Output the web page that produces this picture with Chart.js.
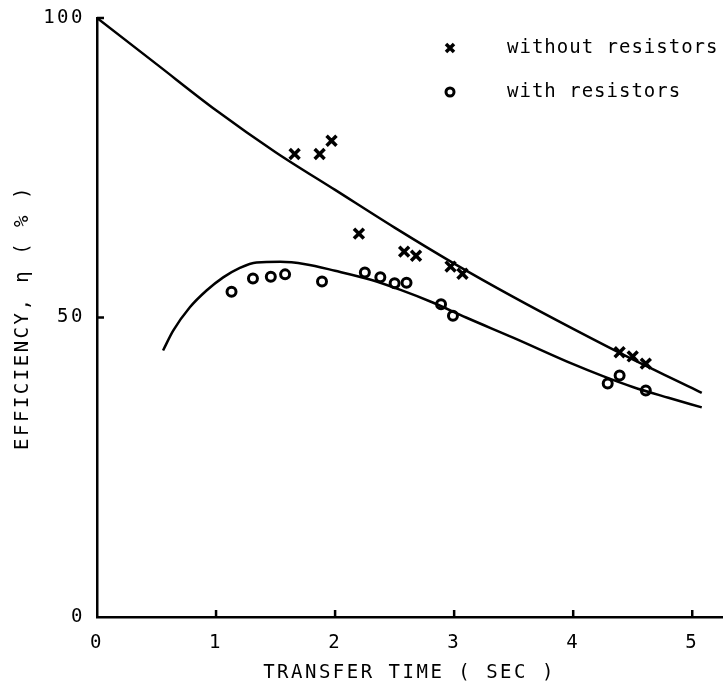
<!DOCTYPE html>
<html>
<head>
<meta charset="utf-8">
<script src="https://cdn.jsdelivr.net/npm/chart.js@4.4.1/dist/chart.umd.min.js"></script>
<style>
body{margin:0;background:#fff;overflow:hidden;}
canvas{display:block;}
</style>
</head>
<body>
<canvas id="chart" width="725" height="695"></canvas>
<script>
// curve without resistors
var upperX=[0,0.5,1,1.5,2,2.5,3,3.5,4,4.5,5,5.08];
var upperY=[100,92.3,84.6,77.6,71.3,65,59,53.4,48.1,43,38.2,37.4];
// curve with resistors
var lowerX=[0.555,0.64,0.78,0.92,1.06,1.2,1.34,1.54,1.75,2.0,2.3,2.55,2.82,3.1,3.5,4.0,4.25,4.5,4.8,5.08];
var lowerY=[44.5,47.8,51.7,54.5,56.7,58.3,59.2,59.3,58.9,57.8,56.3,54.6,52.5,50,46.6,42.2,40.2,38.4,36.6,35];
// measured points
var crossX=[1.66,1.87,1.97,2.2,2.58,2.68,2.97,3.07,4.39,4.5,4.61];
var crossY=[77.3,77.3,79.5,64,61,60.3,58.5,57.3,44.2,43.5,42.3];
var circleX=[1.13,1.31,1.46,1.58,1.89,2.25,2.38,2.5,2.6,2.89,2.99,4.29,4.39,4.61];
var circleY=[54.3,56.5,56.8,57.2,56,57.5,56.7,55.7,55.8,52.2,50.3,39,40.3,37.8];
// ticks and labels
var xTicks=[0,1,2,3,4,5];
var yTicks=[0,50,100];
var legendLabels=['without resistors','with resistors'];

function pts(xs,ys){
  return xs.map(function(x,i){return {x:x,y:ys[i]};});
}

var FONT='"DejaVu Sans Mono", monospace';

//espaciado de letras tipo maquina de escribir
var spacingPlugin={
  id:'spacing',
  beforeDraw:function(chart){ chart.ctx.letterSpacing='2.5px'; }
};

//marcas hacia adentro + leyenda
var extrasPlugin={
  id:'extras',
  afterDraw:function(chart){
    var ctx=chart.ctx, a=chart.chartArea;
    var xs=chart.scales.x, ys=chart.scales.y;
    ctx.save();
    ctx.strokeStyle='#000';
    ctx.lineWidth=2.5;
    xTicks.forEach(function(v){
      if(v===0) return;
      var px=xs.getPixelForValue(v);
      ctx.beginPath();ctx.moveTo(px,a.bottom);ctx.lineTo(px,a.bottom-7);ctx.stroke();
    });
    yTicks.forEach(function(v){
      if(v===0) return;
      var py=ys.getPixelForValue(v);
      ctx.beginPath();ctx.moveTo(a.left,py);ctx.lineTo(a.left+7,py);ctx.stroke();
    });
    //leyenda
    ctx.letterSpacing='1px';
    ctx.font='19px '+FONT;
    ctx.fillStyle='#000';
    ctx.textBaseline='middle';
    ctx.textAlign='left';
    var lx=450, rows=[48,92];
    //cruz
    ctx.lineWidth=3.5;
    ctx.beginPath();
    ctx.moveTo(lx-4,rows[0]-4);ctx.lineTo(lx+4,rows[0]+4);
    ctx.moveTo(lx+4,rows[0]-4);ctx.lineTo(lx-4,rows[0]+4);
    ctx.stroke();
    ctx.fillText(legendLabels[0],507,rows[0]);
    //circulo
    ctx.lineWidth=3;
    ctx.beginPath();ctx.arc(lx,rows[1],4,0,Math.PI*2);ctx.stroke();
    ctx.fillText(legendLabels[1],507,rows[1]);
    ctx.restore();
  }
};

var config={
  type:'scatter',
  data:{
    datasets:[
      {data:pts(upperX,upperY),showLine:true,borderColor:'#000',borderWidth:2.5,pointRadius:0,cubicInterpolationMode:'monotone',fill:false},
      {data:pts(lowerX,lowerY),showLine:true,borderColor:'#000',borderWidth:2.5,pointRadius:0,cubicInterpolationMode:'monotone',fill:false},
      {data:pts(crossX,crossY),showLine:false,pointStyle:'crossRot',pointRadius:7,borderColor:'#000',borderWidth:3.5},
      {data:pts(circleX,circleY),showLine:false,pointStyle:'circle',pointRadius:4.5,borderColor:'#000',backgroundColor:'#fff',borderWidth:3}
    ]
  },
  options:{
    responsive:false,
    animation:false,
    layout:{autoPadding:false,padding:{top:18,right:3,left:0,bottom:0}},
    plugins:{legend:{display:false},tooltip:{enabled:false}},
    scales:{
      x:{
        type:'linear',min:0,max:5.25,
        afterBuildTicks:function(s){ s.ticks=xTicks.map(function(v){return {value:v};}); },
        afterFit:function(s){ s.height=78; s.paddingLeft=0; s.paddingRight=0; },
        grid:{display:false,drawTicks:false},
        border:{display:true,color:'#000',width:2.5},
        ticks:{color:'#000',font:{family:FONT,size:19},padding:15,maxRotation:0},
        title:{display:true,text:'TRANSFER TIME ( SEC )',color:'#000',font:{family:FONT,size:19},padding:{top:6,bottom:11}}
      },
      y:{
        type:'linear',min:0,max:100,
        afterBuildTicks:function(s){ s.ticks=yTicks.map(function(v){return {value:v};}); },
        afterFit:function(s){ s.width=97; s.paddingTop=0; s.paddingBottom=0; },
        grid:{display:false,drawTicks:false},
        border:{display:true,color:'#000',width:2.5},
        ticks:{color:'#000',font:{family:FONT,size:19},padding:12},
        title:{display:true,text:'EFFICIENCY, η ( % )',color:'#000',font:{family:FONT,size:19},padding:{top:12,bottom:0}}
      }
    }
  },
  plugins:[spacingPlugin,extrasPlugin]
};

var ctx=document.getElementById('chart').getContext('2d');
window.grafico=new Chart(ctx,config);
</script>
</body>
</html>
